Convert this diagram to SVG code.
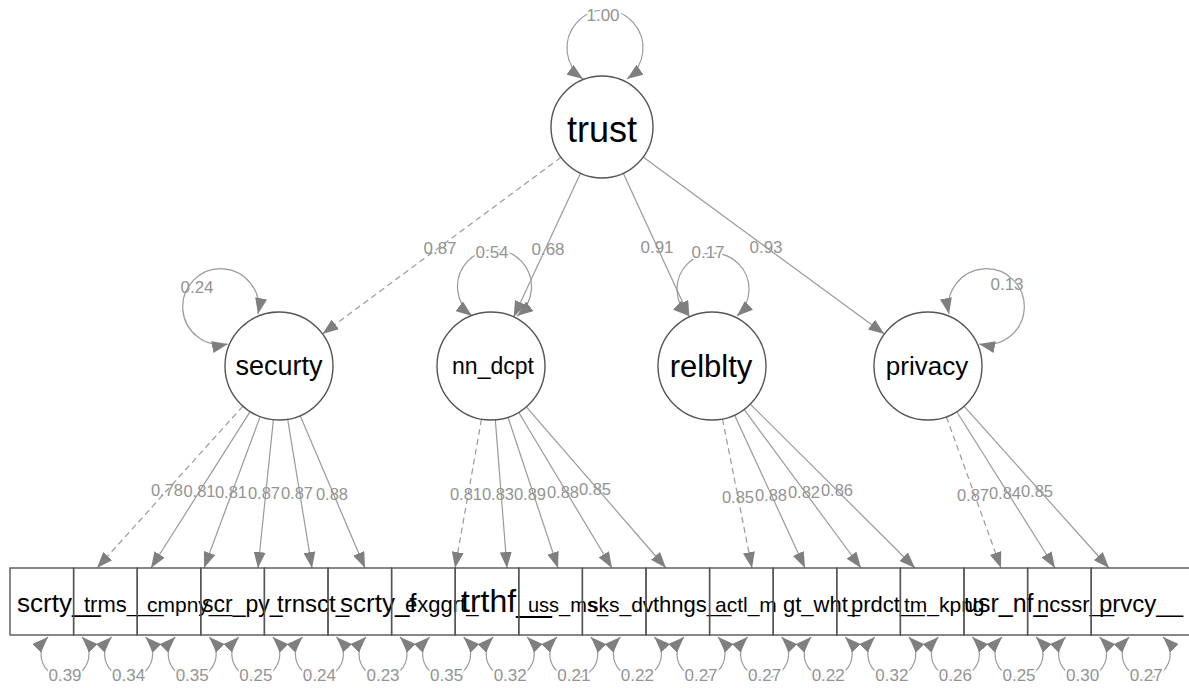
<svg xmlns="http://www.w3.org/2000/svg" width="1189" height="688" viewBox="0 0 1189 688">
<style>
.ln{stroke:#9a9a9a;stroke-width:1.2;fill:none}
.ds{stroke-dasharray:6 4}
.nd{fill:#fff;stroke:#555;stroke-width:1.4}
.bx{fill:none;stroke:#555;stroke-width:1.4}
.nt{font-family:"Liberation Sans",Arial,sans-serif;fill:#000}
.mc{text-anchor:middle}
.el{font-family:"Liberation Sans",Arial,sans-serif;font-size:16.5px;fill:#939393;text-anchor:middle}
.lg{font-size:17px}
.hl{paint-order:stroke;stroke:#fff;stroke-width:4px;stroke-linejoin:round}
</style>
<defs>
<marker id="a" viewBox="0 0 16 12" refX="16" refY="6" markerWidth="16" markerHeight="12" markerUnits="userSpaceOnUse" orient="auto-start-reverse">
<path d="M0,0 L16,6 L0,12 z" fill="#7f7f7f"/>
</marker>
</defs>
<rect width="1189" height="688" fill="#fff"/>
<g id="connectors">
<!-- trust loadings -->
<path class="ln ds" d="M561,157.3 L322.4,333.9" marker-end="url(#a)"/>
<path class="ln" d="M580.5,173.3 L513.7,317" marker-end="url(#a)"/>
<path class="ln" d="M623.3,173.3 L689.4,317" marker-end="url(#a)"/>
<path class="ln" d="M643.1,157.1 L884.4,334.1" marker-end="url(#a)"/>
<!-- latent variances -->
<path class="ln" d="M583,79 A38 38 0 1 1 627,79" marker-start="url(#a)" marker-end="url(#a)"/>
<path class="ln" d="M258,314 A38 38 0 1 0 228,344" marker-start="url(#a)" marker-end="url(#a)"/>
<path class="ln" d="M472,316 A37 37 0 1 1 517,316" marker-start="url(#a)" marker-end="url(#a)"/>
<path class="ln" d="M689,316 A36 36 0 1 1 737,316" marker-start="url(#a)" marker-end="url(#a)"/>
<path class="ln" d="M949,314 A38 38 0 1 1 979,344" marker-start="url(#a)" marker-end="url(#a)"/>
<!-- indicator loadings -->
<path class="ln ds" d="M242.9,406.1 L97,568" marker-end="url(#a)"/>
<path class="ln" d="M250.1,411.6 L151,568" marker-end="url(#a)"/>
<path class="ln" d="M260.2,416.6 L204,568" marker-end="url(#a)"/>
<path class="ln" d="M273.4,419.7 L258,568" marker-end="url(#a)"/>
<path class="ln" d="M287.7,419.3 L312,568" marker-end="url(#a)"/>
<path class="ln" d="M300.2,415.7 L365,568" marker-end="url(#a)"/>
<path class="ln ds" d="M481.5,419.2 L455,568" marker-end="url(#a)"/>
<path class="ln" d="M495.3,419.8 L507,568" marker-end="url(#a)"/>
<path class="ln" d="M508,417.3 L558,568" marker-end="url(#a)"/>
<path class="ln" d="M518.7,412.3 L612,568" marker-end="url(#a)"/>
<path class="ln" d="M526.3,406.8 L666,568" marker-end="url(#a)"/>
<path class="ln ds" d="M722.5,419 L752,568" marker-end="url(#a)"/>
<path class="ln" d="M734.5,415 L805,568" marker-end="url(#a)"/>
<path class="ln" d="M744.1,409.4 L861,568" marker-end="url(#a)"/>
<path class="ln" d="M750.3,404.1 L915,568" marker-end="url(#a)"/>
<path class="ln ds" d="M946.4,416.8 L1001,568" marker-end="url(#a)"/>
<path class="ln" d="M956.8,411.7 L1055,568" marker-end="url(#a)"/>
<path class="ln" d="M964,406.2 L1109,568" marker-end="url(#a)"/>
<!-- residual loops -->
<path class="ln" d="M48,637 A24 24 0 1 0 82,637" marker-start="url(#a)" marker-end="url(#a)"/>
<path class="ln" d="M111.6,637 A24 24 0 1 0 145.6,637" marker-start="url(#a)" marker-end="url(#a)"/>
<path class="ln" d="M175.2,637 A24 24 0 1 0 209.2,637" marker-start="url(#a)" marker-end="url(#a)"/>
<path class="ln" d="M238.8,637 A24 24 0 1 0 272.8,637" marker-start="url(#a)" marker-end="url(#a)"/>
<path class="ln" d="M302.4,637 A24 24 0 1 0 336.4,637" marker-start="url(#a)" marker-end="url(#a)"/>
<path class="ln" d="M366,637 A24 24 0 1 0 400,637" marker-start="url(#a)" marker-end="url(#a)"/>
<path class="ln" d="M429.6,637 A24 24 0 1 0 463.6,637" marker-start="url(#a)" marker-end="url(#a)"/>
<path class="ln" d="M493.2,637 A24 24 0 1 0 527.2,637" marker-start="url(#a)" marker-end="url(#a)"/>
<path class="ln" d="M556.8,637 A24 24 0 1 0 590.8,637" marker-start="url(#a)" marker-end="url(#a)"/>
<path class="ln" d="M620.4,637 A24 24 0 1 0 654.4,637" marker-start="url(#a)" marker-end="url(#a)"/>
<path class="ln" d="M684,637 A24 24 0 1 0 718,637" marker-start="url(#a)" marker-end="url(#a)"/>
<path class="ln" d="M747.6,637 A24 24 0 1 0 781.6,637" marker-start="url(#a)" marker-end="url(#a)"/>
<path class="ln" d="M811.2,637 A24 24 0 1 0 845.2,637" marker-start="url(#a)" marker-end="url(#a)"/>
<path class="ln" d="M874.8,637 A24 24 0 1 0 908.8,637" marker-start="url(#a)" marker-end="url(#a)"/>
<path class="ln" d="M938.4,637 A24 24 0 1 0 972.4,637" marker-start="url(#a)" marker-end="url(#a)"/>
<path class="ln" d="M1002,637 A24 24 0 1 0 1036,637" marker-start="url(#a)" marker-end="url(#a)"/>
<path class="ln" d="M1065.6,637 A24 24 0 1 0 1099.6,637" marker-start="url(#a)" marker-end="url(#a)"/>
<path class="ln" d="M1129.2,637 A24 24 0 1 0 1163.2,637" marker-start="url(#a)" marker-end="url(#a)"/>
<!-- edge labels -->
<text class="el lg" x="440" y="254">0.87</text>
<text class="el lg" x="548" y="255">0.68</text>
<text class="el lg" x="657" y="253">0.91</text>
<text class="el lg" x="766" y="253">0.93</text>
<text class="el lg hl" x="603" y="21">1.00</text>
<text class="el lg" x="197" y="293">0.24</text>
<text class="el lg hl" x="492" y="258">0.54</text>
<text class="el lg hl" x="708" y="258">0.17</text>
<text class="el lg" x="1007" y="290">0.13</text>
<text class="el" x="167" y="496">0.78</text>
<text class="el" x="199.5" y="497">0.81</text>
<text class="el" x="231" y="498">0.81</text>
<text class="el" x="264" y="499">0.87</text>
<text class="el" x="297" y="499">0.87</text>
<text class="el" x="332" y="500">0.88</text>
<text class="el" x="466" y="500">0.81</text>
<text class="el" x="498" y="500">0.83</text>
<text class="el" x="530" y="500">0.89</text>
<text class="el" x="563" y="498">0.88</text>
<text class="el" x="595" y="495">0.85</text>
<text class="el" x="738" y="503">0.85</text>
<text class="el" x="771" y="501">0.88</text>
<text class="el" x="804" y="498">0.82</text>
<text class="el" x="837" y="496">0.86</text>
<text class="el" x="973" y="501">0.87</text>
<text class="el" x="1005" y="499">0.84</text>
<text class="el" x="1037" y="497">0.85</text>
<text class="el lg hl" x="65" y="681">0.39</text>
<text class="el lg hl" x="128.6" y="681">0.34</text>
<text class="el lg hl" x="192.2" y="681">0.35</text>
<text class="el lg hl" x="255.8" y="681">0.25</text>
<text class="el lg hl" x="319.4" y="681">0.24</text>
<text class="el lg hl" x="383" y="681">0.23</text>
<text class="el lg hl" x="446.6" y="681">0.35</text>
<text class="el lg hl" x="510.2" y="681">0.32</text>
<text class="el lg hl" x="573.8" y="681">0.21</text>
<text class="el lg hl" x="637.4" y="681">0.22</text>
<text class="el lg hl" x="701" y="681">0.27</text>
<text class="el lg hl" x="764.6" y="681">0.27</text>
<text class="el lg hl" x="828.2" y="681">0.22</text>
<text class="el lg hl" x="891.8" y="681">0.32</text>
<text class="el lg hl" x="955.4" y="681">0.26</text>
<text class="el lg hl" x="1019" y="681">0.25</text>
<text class="el lg hl" x="1082.6" y="681">0.30</text>
<text class="el lg hl" x="1146.2" y="681">0.27</text>
</g>
<g id="trust"><circle class="nd" cx="602" cy="127" r="51"/><text class="nt mc" x="602" y="142" font-size="36">trust</text></g>
<g id="securty"><circle class="nd" cx="279" cy="366" r="54"/><text class="nt mc" x="279" y="375" font-size="27">securty</text></g>
<g id="nn_dcpt"><circle class="nd" cx="491" cy="366" r="54"/><text class="nt mc" x="493" y="374" font-size="23">nn_dcpt</text></g>
<g id="relblty"><circle class="nd" cx="712" cy="366" r="54"/><text class="nt mc" x="711" y="377" font-size="31">relblty</text></g>
<g id="privacy"><circle class="nd" cx="928" cy="366" r="54"/><text class="nt mc" x="927" y="375" font-size="26">privacy</text></g>
<g id="ind1"><rect class="bx" x="10" y="568" width="63.6" height="67"/><text class="nt" x="17" y="612" font-size="26">scrty__</text></g>
<g id="ind2"><rect class="bx" x="73.6" y="568" width="63.6" height="67"/><text class="nt" x="84" y="612" font-size="22">trms___</text></g>
<g id="ind3"><rect class="bx" x="137.2" y="568" width="63.6" height="67"/><text class="nt" x="147" y="612" font-size="21">cmpny__</text></g>
<g id="ind4"><rect class="bx" x="200.8" y="568" width="63.6" height="67"/><text class="nt" x="202" y="612" font-size="23">scr_py_</text></g>
<g id="ind5"><rect class="bx" x="264.4" y="568" width="63.6" height="67"/><text class="nt" x="277" y="612" font-size="24">trnsct_</text></g>
<g id="ind6"><rect class="bx" x="328" y="568" width="63.6" height="67"/><text class="nt" x="340" y="612" font-size="26">scrty_f</text></g>
<g id="ind7"><rect class="bx" x="391.6" y="568" width="63.6" height="67"/><text class="nt" x="405" y="612" font-size="22">exggrt_</text></g>
<g id="ind8"><rect class="bx" x="455.2" y="568" width="63.6" height="67"/><text class="nt" x="461" y="612" font-size="32">trthf__</text></g>
<g id="ind9"><rect class="bx" x="518.8" y="568" width="63.6" height="67"/><text class="nt" x="528" y="612" font-size="20">uss_ms_</text></g>
<g id="ind10"><rect class="bx" x="582.4" y="568" width="63.6" height="67"/><text class="nt" x="588" y="612" font-size="21">sks_dv</text></g>
<g id="ind11"><rect class="bx" x="646" y="568" width="63.6" height="67"/><text class="nt" x="653" y="612" font-size="22">thngs__</text></g>
<g id="ind12"><rect class="bx" x="709.6" y="568" width="63.6" height="67"/><text class="nt" x="715" y="612" font-size="21">actl_m</text></g>
<g id="ind13"><rect class="bx" x="773.2" y="568" width="63.6" height="67"/><text class="nt" x="783" y="612" font-size="22">gt_wht_</text></g>
<g id="ind14"><rect class="bx" x="836.8" y="568" width="63.6" height="67"/><text class="nt" x="851" y="612" font-size="22">prdct__</text></g>
<g id="ind15"><rect class="bx" x="900.4" y="568" width="63.6" height="67"/><text class="nt" x="904" y="612" font-size="21">tm_kpng</text></g>
<g id="ind16"><rect class="bx" x="964" y="568" width="63.6" height="67"/><text class="nt" x="964" y="612" font-size="25">usr_nf_</text></g>
<g id="ind17"><rect class="bx" x="1027.6" y="568" width="63.6" height="67"/><text class="nt" x="1037" y="612" font-size="22">ncssr__</text></g>
<g id="ind18"><rect class="bx" x="1091.2" y="568" width="110" height="67"/><text class="nt" x="1099" y="612" font-size="24">prvcy__</text></g>
</svg>
